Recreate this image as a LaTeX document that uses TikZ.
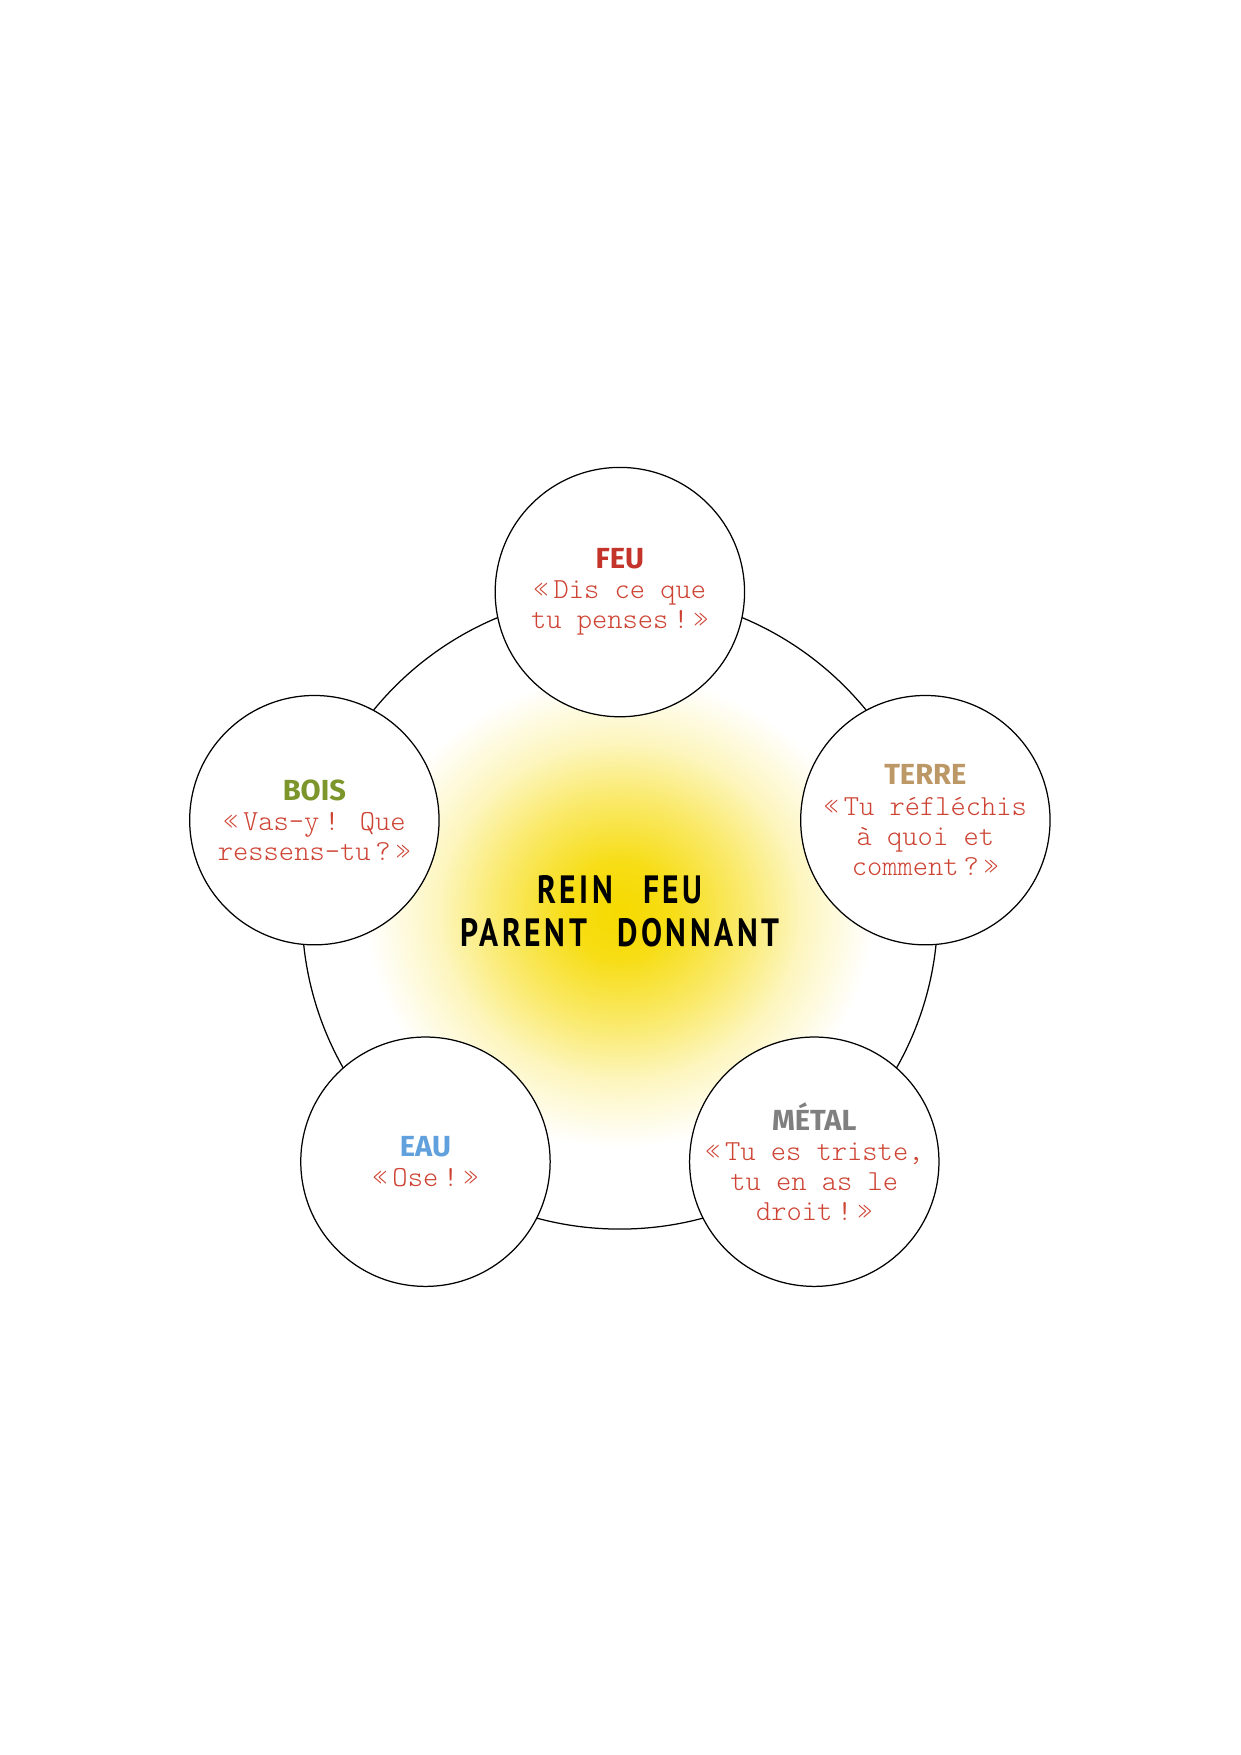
\documentclass[tikz,border=0pt]{standalone}
\usepackage{fontspec}
\usepackage{tikz}
\newfontfamily\elemfont{Fira Sans}
\newfontfamily\heartfont[FakeStretch=0.8,LetterSpace=9,WordSpace=2.6]{PT Sans}
\newfontfamily\quotefont{lmmonolt10-regular}[Extension=.otf]

\definecolor{sunyellow}{RGB}{246,218,0}
\definecolor{quotered}{RGB}{206,68,52}
\definecolor{feured}{RGB}{196,52,42}
\definecolor{terretan}{RGB}{188,152,102}
\definecolor{boisgreen}{RGB}{124,150,44}
\definecolor{eaublue}{RGB}{96,160,220}
\definecolor{metalgray}{RGB}{128,128,128}

% the path radius matches 25bp
\pgfdeclareradialshading{sunglow}{\pgfpointorigin}{color(0bp)=(sunyellow);
  color(5bp)=(sunyellow!92!white); color(12bp)=(sunyellow!58!white);
  color(18bp)=(sunyellow!25!white); color(25bp)=(white); color(50bp)=(white)}

\newcommand{\elemname}[2]{{\elemfont\bfseries\color{#1}#2}}

\tikzset{
  element/.style={circle, draw, fill=white, line width=0.6pt, minimum size=4.22cm,
    inner sep=0pt, align=center, text=quotered,
    font=\quotefont\fontsize{14}{14.5}\selectfont},
  heart/.style={align=center, font=\heartfont\bfseries\fontsize{19}{20.6}\selectfont}
}

\begin{document}
\begin{tikzpicture}
  \useasboundingbox (0,0) rectangle (21,29.7);
  \coordinate (c) at (10.49,14.28);

  % glow and cycle
  \shade[shading=sunglow] (c) ellipse (4.3cm and 4.0cm);
  \draw[line width=0.6pt] (c) circle (5.38cm);

  % the five elements
  \node[element] (feu)   at (10.49,19.68) {\elemname{feured}{FEU}\\
    «\,Dis ce que\\tu penses\,!\,»};
  \node[element] (terre) at (15.66,15.82) {\elemname{terretan}{TERRE}\\
    «\,Tu réfléchis\\à quoi et\\comment\,?\,»};
  \node[element] (metal) at (13.78,10.04) {\elemname{metalgray}{MÉTAL}\\
    «\,Tu es triste,\\tu en as le\\droit\,!\,»};
  \node[element] (eau)   at (7.20,10.04) {\elemname{eaublue}{EAU}\\
    «\,Ose\,!\,»};
  \node[element] (bois)  at (5.32,15.82) {\elemname{boisgreen}{BOIS}\\
    «\,Vas-y\,! Que\\ressens-tu\,?\,»};

  % centre
  \node[heart] (rein) at (c) {REIN FEU\\PARENT DONNANT};
\end{tikzpicture}
\end{document}
